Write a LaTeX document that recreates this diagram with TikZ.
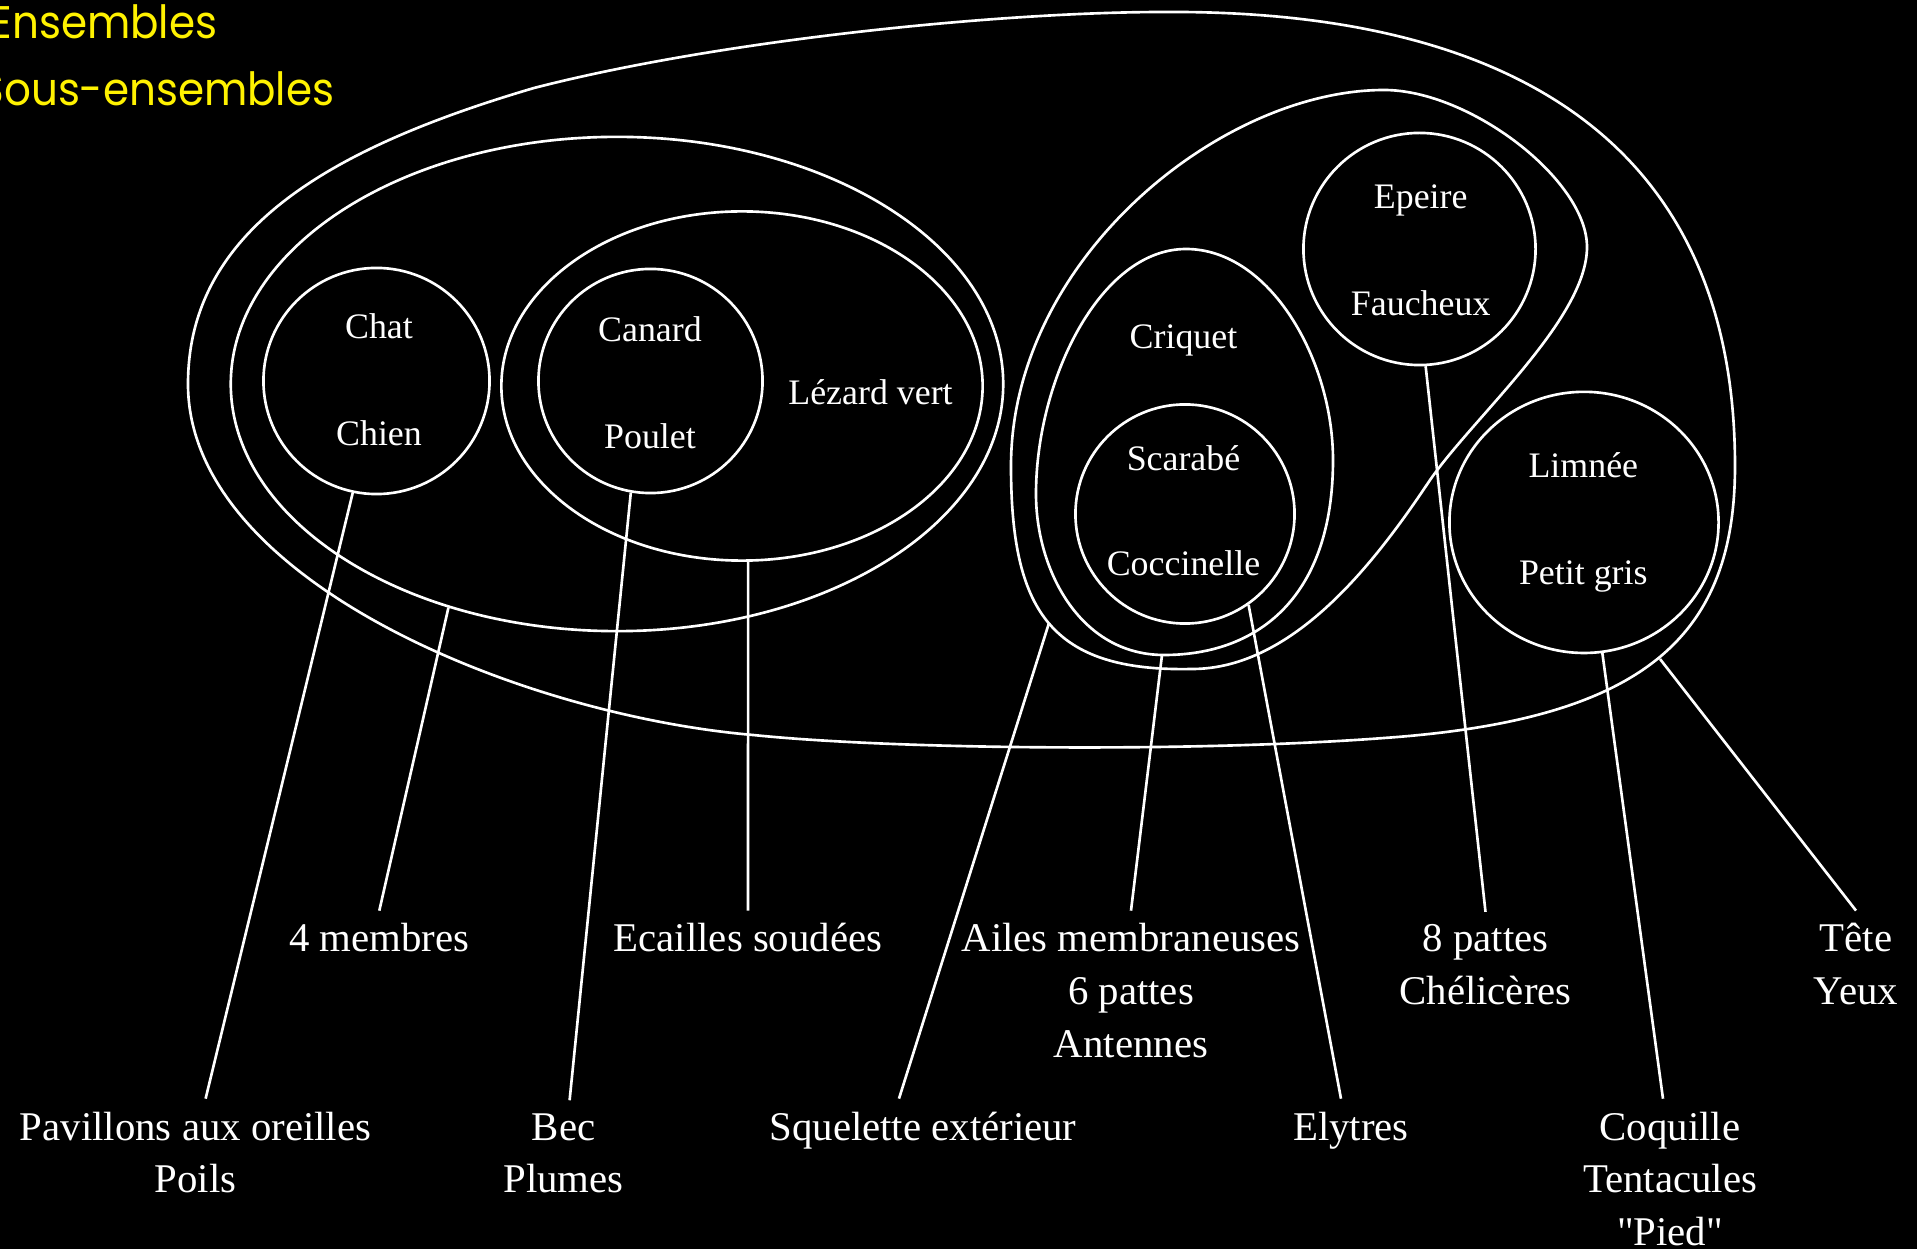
\documentclass[tikz,border=0pt]{standalone}
\usepackage{fontspec}
\setmainfont{Liberation Serif}[Ligatures=TeXOff]
\newfontfamily\titlefont{Poppins}[FakeStretch=0.92]
\usetikzlibrary{calc,shapes.geometric}

\tikzset{
  set/.style={draw=white, line width=0.75pt},
  ring/.style={set, circle, inner sep=0pt},
  oval/.style={set, ellipse, inner sep=0pt},
  member/.style={text=white, font=\fontsize{10.2}{12}\selectfont, anchor=base, inner sep=0pt},
  trait/.style={text=white, font=\fontsize{11.6}{15}\selectfont, anchor=base, inner sep=3.5pt},
  link/.style={draw=white, line width=0.75pt},
  heading/.style={text=yellow, font=\titlefont\fontsize{13}{16}\selectfont, anchor=base east, inner sep=0pt}
}

\begin{document}
\begin{tikzpicture}[x=0.01cm, y=-0.01cm]
  \useasboundingbox (0,0) rectangle (1917,1249);
  \fill[black] (0,0) rectangle (1917,1249);

  % titles
  \node[heading] (ens) at (218,39) {Ensembles};
  \node[heading] (sous) at (335,106) {Sous-ensembles};

  % animals
  \draw[set] (188,384) .. controls (188,230) and (330,148) .. (534,88)
    .. controls (720,40) and (1000,12) .. (1164,12)
    .. controls (1480,10) and (1735,120) .. (1735,466)
    .. controls (1735,640) and (1640,720) .. (1384,738)
    .. controls (1200,752) and (900,750) .. (753,735)
    .. controls (520,715) and (188,580) .. (188,384) -- cycle;
  \coordinate (animfoot) at (1660,659);

  % vertebres
  \node[oval, minimum width=7.72cm, minimum height=4.94cm] (vert) at (617,384) {};
  \node[oval, minimum width=4.81cm, minimum height=3.49cm] (rept) at (742,386) {};
  \node[ring, minimum size=2.26cm] (cc) at (376.5,381) {};
  \node[ring, minimum size=2.24cm] (cp) at (650.5,381) {};

  % arthropodes
  \draw[set] (1011,466) .. controls (1011,260) and (1220,90) .. (1384,90)
    .. controls (1470,90) and (1587,180) .. (1587,247)
    .. controls (1587,320) and (1470,420) .. (1428,483)
    .. controls (1370,570) and (1290,669) .. (1192,669)
    .. controls (1050,672) and (1011,610) .. (1011,466) -- cycle;
  \coordinate (arthfoot) at (1049,623);
  \draw[set] (1186,249) .. controls (1270,249) and (1333,360) .. (1333,460)
    .. controls (1333,595) and (1260,655) .. (1164,655)
    .. controls (1080,655) and (1036,570) .. (1036,494)
    .. controls (1036,380) and (1100,249) .. (1186,249) -- cycle;
  \coordinate (eggfoot) at (1162,655);
  \node[ring, minimum size=2.19cm] (sc) at (1185,514) {};
  \node[ring, minimum size=2.32cm] (ef) at (1419.5,249) {};

  % mollusques
  \node[oval, minimum width=2.69cm, minimum height=2.61cm] (lp) at (1584,522.4) {};

  % members
  \node[member] (chat) at (379,339) {Chat};
  \node[member] (chien) at (379,446) {Chien};
  \node[member] (canard) at (650,342) {Canard};
  \node[member] (poulet) at (650,448.5) {Poulet};
  \node[member] (lezard) at (870.5,404.5) {Lézard vert};
  \node[member] (criquet) at (1183.5,349) {Criquet};
  \node[member] (scarabe) at (1183.5,470.5) {Scarabé};
  \node[member] (cocci) at (1183.5,575.5) {Coccinelle};
  \node[member] (epeire) at (1420.7,209) {Epeire};
  \node[member] (fauch) at (1420.7,316) {Faucheux};
  \node[member] (limnee) at (1583.3,477.8) {Limnée};
  \node[member] (petitgris) at (1583.3,584.2) {Petit gris};

  % traits
  \node[trait] (pav) at (195.6,1140) {Pavillons aux oreilles};
  \node[trait] (poils) at (195.6,1192.7) {Poils};
  \node[trait] (membres) at (379.3,952) {4 membres};
  \node[trait] (bec) at (563.6,1140) {Bec};
  \node[trait] (plumes) at (563.6,1192.7) {Plumes};
  \node[trait] (ecailles) at (748,952) {Ecailles soudées};
  \node[trait] (squel) at (923,1140) {Squelette extérieur};
  \node[trait] (ailes) at (1131,952) {Ailes membraneuses};
  \node[trait] (six) at (1131,1004.7) {6 pattes};
  \node[trait] (antennes) at (1131,1057.4) {Antennes};
  \node[trait] (elytres) at (1351,1140) {Elytres};
  \node[trait] (huit) at (1485.5,952) {8 pattes};
  \node[trait] (cheli) at (1485.5,1004.7) {Chélicères};
  \node[trait] (coquille) at (1670,1140) {Coquille};
  \node[trait] (tentacules) at (1670,1192.7) {Tentacules};
  \node[trait] (pied) at (1670,1245.4) {"Pied"};
  \node[trait] (tete) at (1856,952) {Tête};
  \node[trait] (yeux) at (1856,1004.7) {Yeux};

  % links
  \draw[link] (cc.-102) -- ([xshift=0.1cm]pav.north);
  \draw[link] (vert.-127.5) -- (membres.north);
  \draw[link] (cp.-100) -- ([xshift=0.06cm]bec.north);
  \draw[link] (rept.-88) -- (ecailles.north);
  \draw[link] (arthfoot) -- ([xshift=-0.24cm]squel.north);
  \draw[link] (eggfoot) -- (ailes.north);
  \draw[link] (sc.-55) -- ([xshift=-0.1cm]elytres.north);
  \draw[link] (ef.-87.5) -- (huit.north);
  \draw[link] (lp.-82) -- ([xshift=-0.07cm]coquille.north);
  \draw[link] (animfoot) -- (tete.north);
\end{tikzpicture}
\end{document}
